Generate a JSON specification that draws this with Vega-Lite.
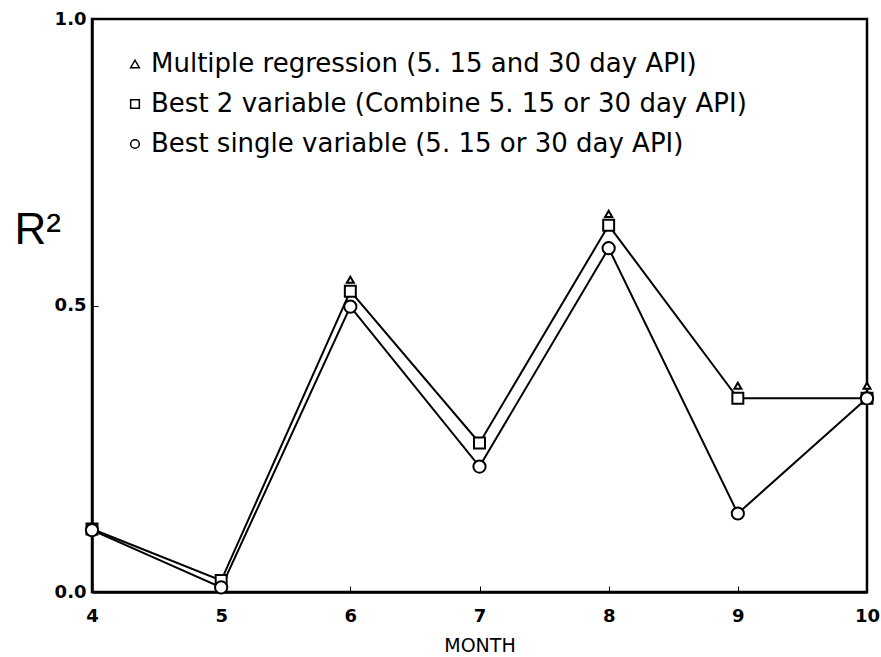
{
  "$schema": "https://vega.github.io/schema/vega-lite/v6.json",
  "width": 775,
  "height": 573,
  "autosize": {"type": "none"},
  "padding": {"left": 92, "top": 19, "right": 14, "bottom": 65},
  "background": "white",
  "config": {
    "view": {"stroke": "black", "strokeWidth": 2.5},
    "font": "DejaVu Sans",
    "axis": {"grid": false, "domainColor": "black", "domainWidth": 2.5, "tickColor": "black", "labelColor": "black", "titleColor": "black"},
    "legend": {
      "orient": "none", "legendX": 30, "legendY": 32, "title": null,
      "labelFontSize": 26, "labelColor": "black", "labelFont": "DejaVu Sans",
      "symbolSize": 75, "symbolStrokeWidth": 1.5,
      "rowPadding": 14, "labelOffset": 3, "labelLimit": 800
    }
  },
  "data": {
    "values": [
      {"month": 4, "series": "Multiple regression (5. 15 and 30 day API)", "r2": 0.11},
      {"month": 5, "series": "Multiple regression (5. 15 and 30 day API)", "r2": 0.02},
      {"month": 6, "series": "Multiple regression (5. 15 and 30 day API)", "r2": 0.545},
      {"month": 7, "series": "Multiple regression (5. 15 and 30 day API)", "r2": 0.26},
      {"month": 8, "series": "Multiple regression (5. 15 and 30 day API)", "r2": 0.66},
      {"month": 9, "series": "Multiple regression (5. 15 and 30 day API)", "r2": 0.36},
      {"month": 10, "series": "Multiple regression (5. 15 and 30 day API)", "r2": 0.36},
      {"month": 4, "series": "Best 2 variable (Combine 5. 15 or 30 day API)", "r2": 0.11},
      {"month": 5, "series": "Best 2 variable (Combine 5. 15 or 30 day API)", "r2": 0.02},
      {"month": 6, "series": "Best 2 variable (Combine 5. 15 or 30 day API)", "r2": 0.525},
      {"month": 7, "series": "Best 2 variable (Combine 5. 15 or 30 day API)", "r2": 0.26},
      {"month": 8, "series": "Best 2 variable (Combine 5. 15 or 30 day API)", "r2": 0.64},
      {"month": 9, "series": "Best 2 variable (Combine 5. 15 or 30 day API)", "r2": 0.338},
      {"month": 10, "series": "Best 2 variable (Combine 5. 15 or 30 day API)", "r2": 0.338},
      {"month": 4, "series": "Best single variable (5. 15 or 30 day API)", "r2": 0.108},
      {"month": 5, "series": "Best single variable (5. 15 or 30 day API)", "r2": 0.008},
      {"month": 6, "series": "Best single variable (5. 15 or 30 day API)", "r2": 0.498},
      {"month": 7, "series": "Best single variable (5. 15 or 30 day API)", "r2": 0.219},
      {"month": 8, "series": "Best single variable (5. 15 or 30 day API)", "r2": 0.60},
      {"month": 9, "series": "Best single variable (5. 15 or 30 day API)", "r2": 0.137},
      {"month": 10, "series": "Best single variable (5. 15 or 30 day API)", "r2": 0.338}
    ]
  },
  "encoding": {
    "x": {
      "field": "month", "type": "quantitative",
      "scale": {"domain": [4, 10], "nice": false, "zero": false},
      "axis": {"values": [4, 5, 6, 7, 8, 9, 10], "format": "d", "title": "MONTH", "labelFontSize": 18, "labelFontWeight": "bold", "titleFontSize": 19, "titleFontWeight": "normal", "tickSize": -6, "labelPadding": 21, "titlePadding": 11, "labelFlush": false}
    },
    "y": {
      "field": "r2", "type": "quantitative",
      "scale": {"domain": [0, 1], "nice": false},
      "axis": {"values": [0, 0.5, 1], "format": ".1f", "title": "R²", "titleAngle": 0, "titleFont": "Liberation Sans", "titleFontSize": 44, "titleFontWeight": "normal", "titleX": -78, "titleY": 211, "titleAlign": "left", "titleBaseline": "middle", "labelFontSize": 18, "labelFontWeight": "bold", "tickSize": -6, "labelPadding": 12, "labelFlush": false}
    }
  },
  "layer": [
    {
      "transform": [{"filter": "datum.series != 'Multiple regression (5. 15 and 30 day API)'"}],
      "mark": {"type": "line", "color": "black", "strokeWidth": 2},
      "encoding": {"detail": {"field": "series"}}
    },
    {
      "mark": {"type": "point", "filled": false, "strokeWidth": 2, "opacity": 1, "fill": "white", "fillOpacity": 1},
      "encoding": {
        "size": {
          "condition": [
            {"test": "datum.series == 'Multiple regression (5. 15 and 30 day API)'", "value": 50},
            {"test": "datum.series == 'Best 2 variable (Combine 5. 15 or 30 day API)'", "value": 120}
          ],
          "value": 150
        },
        "color": {
          "field": "series", "type": "nominal",
          "scale": {
            "domain": ["Multiple regression (5. 15 and 30 day API)", "Best 2 variable (Combine 5. 15 or 30 day API)", "Best single variable (5. 15 or 30 day API)"],
            "range": ["black", "black", "black"]
          }
        },
        "shape": {
          "field": "series", "type": "nominal",
          "scale": {
            "domain": ["Multiple regression (5. 15 and 30 day API)", "Best 2 variable (Combine 5. 15 or 30 day API)", "Best single variable (5. 15 or 30 day API)"],
            "range": ["triangle-up", "square", "circle"]
          }
        }
      }
    }
  ]
}
